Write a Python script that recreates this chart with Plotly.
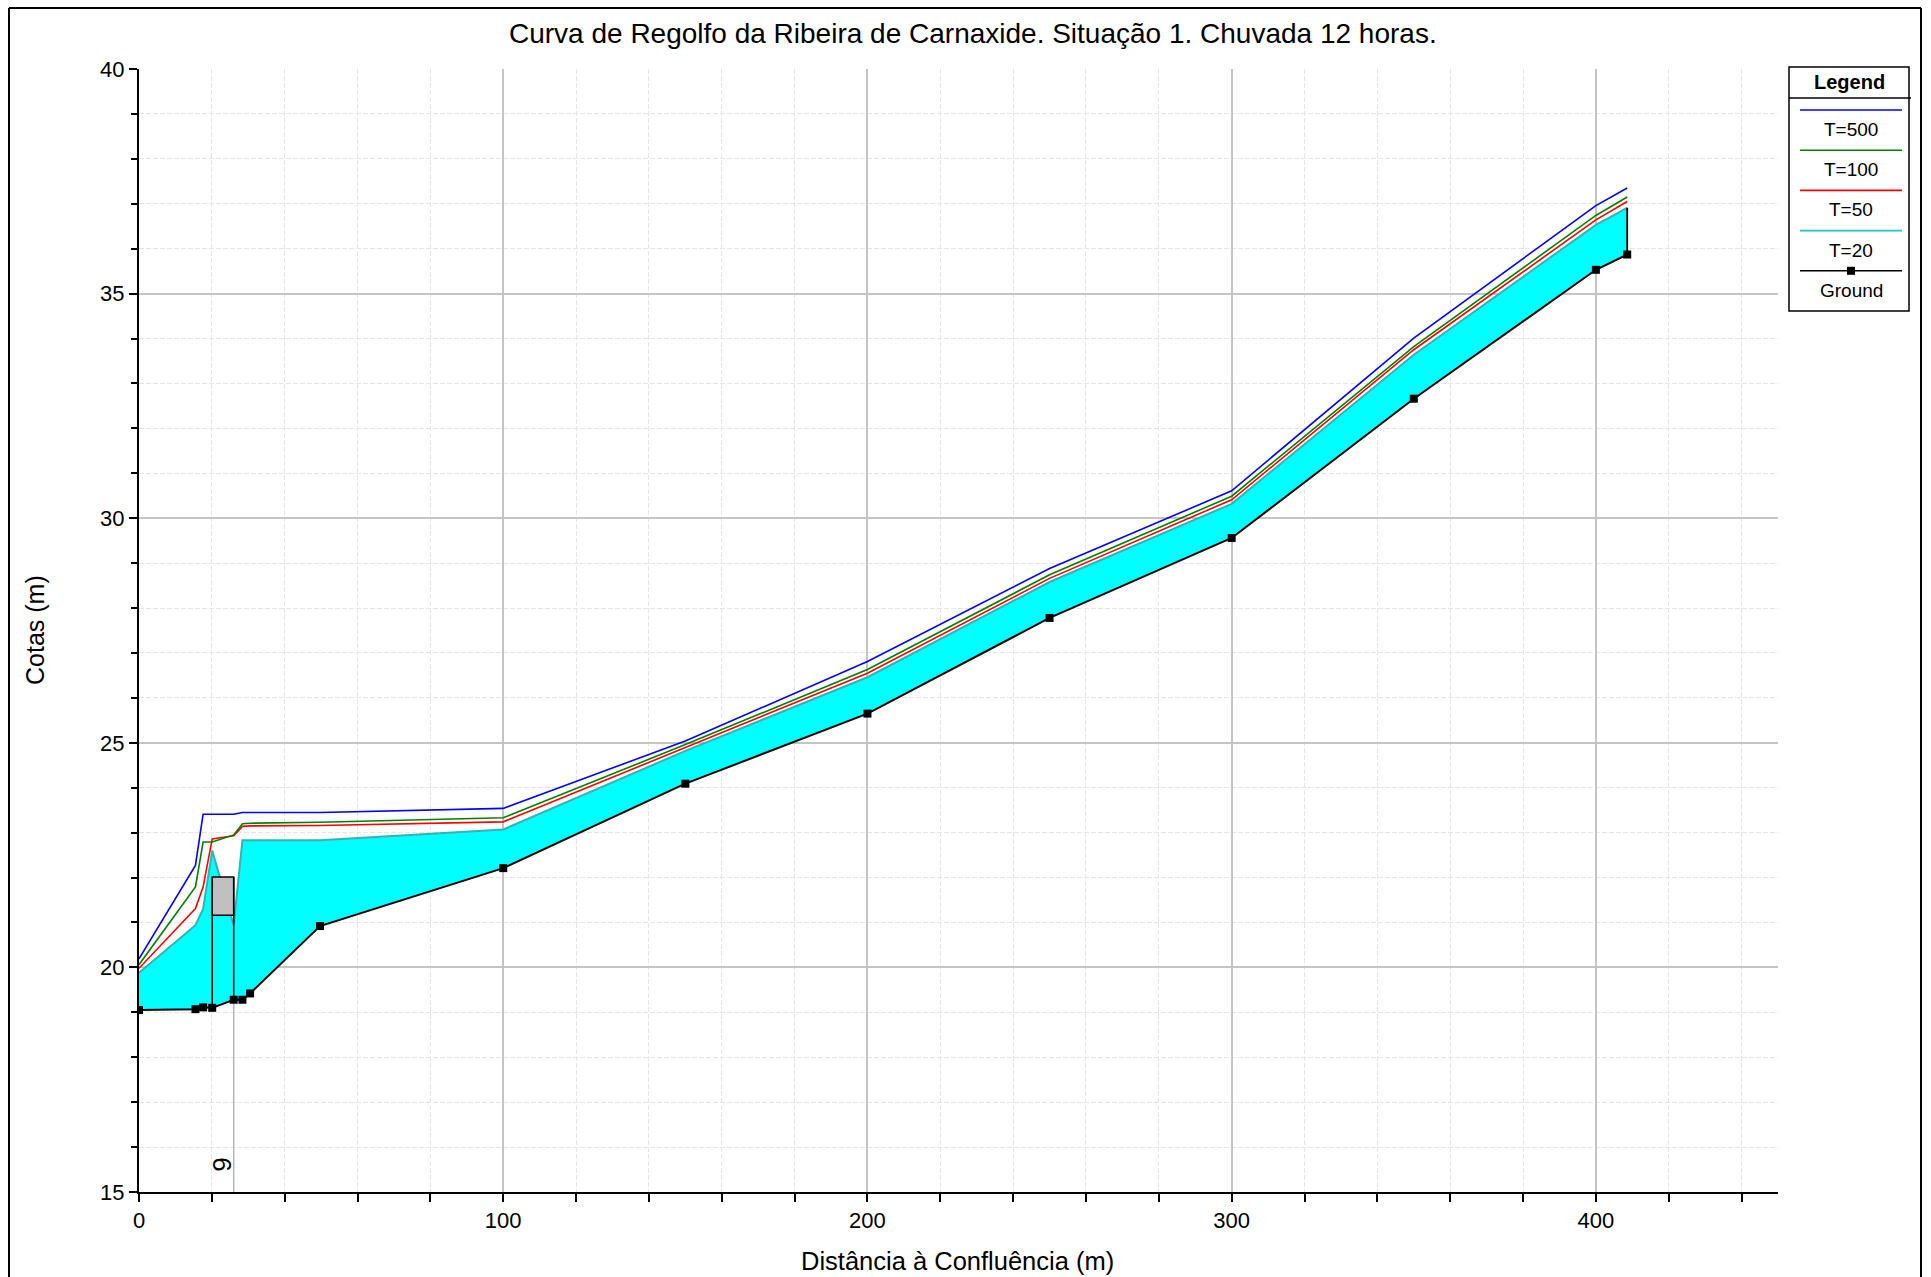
import plotly.graph_objects as go

# ---------------- data ----------------
stations = [0, 15.5, 17.6, 20.1, 26.0, 28.4, 30.5, 49.7, 100, 150, 200, 250, 300, 350, 400, 408.6]
ground = [19.05, 19.07, 19.11, 19.10, 19.28, 19.28, 19.42, 20.92, 22.21, 24.09, 25.65, 27.78, 29.56, 32.66, 35.53, 35.87]
ws_t500 = [20.19, 22.27, 23.41, 23.41, 23.41, 23.45, 23.45, 23.45, 23.54, 25.04, 26.81, 28.88, 30.61, 34.01, 36.96, 37.35]
ws_t100 = [20.06, 21.79, 22.79, 22.79, 22.95, 23.20, 23.21, 23.23, 23.33, 24.96, 26.63, 28.74, 30.49, 33.82, 36.74, 37.15]
ws_t50 = [19.98, 21.31, 21.79, 22.86, 22.93, 23.14, 23.15, 23.16, 23.24, 24.90, 26.55, 28.66, 30.41, 33.75, 36.64, 37.05]
ws_t20 = [19.88, 20.94, 21.30, 22.60, 20.94, 22.83, 22.83, 22.83, 23.07, 24.82, 26.46, 28.58, 30.32, 33.64, 36.53, 36.91]

bridge_x = [20.1, 26.0]
bridge_ground = [19.10, 19.28]
bridge_low_chord = 21.16
bridge_high_chord = 22.01
bridge_label = "9"

series_names = ["T=500", "T=100", "T=50", "T=20", "Ground"]
series_colors = ["#0000FF", "#008000", "#FF0000", "#20C4C4", "#000000"]

title_text = "Curva de Regolfo da Ribeira de Carnaxide. Situação 1. Chuvada 12 horas."
x_title = "Distância à Confluência (m)"
y_title = "Cotas (m)"
legend_title = "Legend"

x_range = [0, 450]
y_range = [15, 40]

# ---------------- layout geometry (screen px of the plot area) ----------------
PL, PT, PR, PB = 139, 69, 1778, 1192
FW, FH = 1931, 1277
L, T = PL, PT
R, B = FW - PR, FH - PB
W, H = PR - PL, PB - PT
FONT = "Arial, Liberation Sans, sans-serif"


def fx(px):
    return (px - PL) / W


def fy(py):
    return (PB - py) / H


fig = go.Figure()

# T=20 filled area between ground and water surface
fig.add_trace(go.Scatter(x=stations, y=ground, mode="lines", line=dict(width=0),
                         showlegend=False, hoverinfo="skip"))
fig.add_trace(go.Scatter(x=stations, y=ws_t20, mode="lines", fill="tonexty",
                         fillcolor="#00FFFF", line=dict(color="#30B4B4", width=2),
                         name="T=20", showlegend=False))

# bridge deck
fig.add_trace(go.Scatter(
    x=[bridge_x[0], bridge_x[1], bridge_x[1], bridge_x[0], bridge_x[0]],
    y=[bridge_low_chord, bridge_low_chord, bridge_high_chord, bridge_high_chord, bridge_low_chord],
    mode="lines", fill="toself", fillcolor="#C0C0C0",
    line=dict(color="black", width=1.5), showlegend=False, hoverinfo="skip"))
# bridge abutment lines
for bx, bg in zip(bridge_x, bridge_ground):
    fig.add_trace(go.Scatter(x=[bx, bx], y=[bg, bridge_high_chord], mode="lines",
                             line=dict(color="black", width=1.5), showlegend=False,
                             hoverinfo="skip"))
# bridge station reference line
fig.add_trace(go.Scatter(x=[bridge_x[1], bridge_x[1]], y=[y_range[0], bridge_ground[1]],
                         mode="lines", line=dict(color="#B4B4B4", width=1.5),
                         showlegend=False, hoverinfo="skip"))

# water surface lines
for name, ys, col in [("T=50", ws_t50, series_colors[2]),
                      ("T=100", ws_t100, series_colors[1]),
                      ("T=500", ws_t500, series_colors[0])]:
    fig.add_trace(go.Scatter(x=stations, y=ys, mode="lines", name=name,
                             line=dict(color=col, width=1.6), showlegend=False))

# end vertical of the fill
fig.add_trace(go.Scatter(x=[stations[-1], stations[-1]], y=[ground[-1], ws_t20[-1]],
                         mode="lines", line=dict(color="black", width=1.8),
                         showlegend=False, hoverinfo="skip"))
# ground
fig.add_trace(go.Scatter(x=stations, y=ground, mode="lines+markers", name="Ground",
                         line=dict(color="black", width=2),
                         marker=dict(symbol="square", size=8, color="black"),
                         showlegend=False))

shapes = []
annotations = []

# outer frame
shapes.append(dict(type="line", xref="paper", yref="paper", x0=fx(9), x1=fx(1921),
                   y0=fy(8), y1=fy(8), line=dict(color="black", width=2)))
shapes.append(dict(type="line", xref="paper", yref="paper", x0=fx(9), x1=fx(9),
                   y0=fy(8), y1=fy(1290), line=dict(color="black", width=2)))
shapes.append(dict(type="line", xref="paper", yref="paper", x0=fx(1921), x1=fx(1921),
                   y0=fy(8), y1=fy(1290), line=dict(color="black", width=2)))

# custom legend
shapes.append(dict(type="rect", xref="paper", yref="paper", x0=fx(1789), x1=fx(1909),
                   y0=fy(311), y1=fy(67), line=dict(color="black", width=1.5),
                   fillcolor="white"))
shapes.append(dict(type="line", xref="paper", yref="paper", x0=fx(1789), x1=fx(1911),
                   y0=fy(98), y1=fy(98), line=dict(color="black", width=1.5)))
annotations.append(dict(text="<b>" + legend_title + "</b>", xref="paper", yref="paper",
                        x=fx(1849), y=fy(82), showarrow=False,
                        font=dict(family=FONT, size=20, color="black"),
                        xanchor="center", yanchor="middle"))
for i, (nm, col) in enumerate(zip(series_names, series_colors)):
    ly = 110 + 40.2 * i
    shapes.append(dict(type="line", xref="paper", yref="paper", x0=fx(1800), x1=fx(1902),
                       y0=fy(ly), y1=fy(ly), line=dict(color=col, width=1.6)))
    annotations.append(dict(text=nm, xref="paper", yref="paper", x=fx(1851), y=fy(ly + 19.5),
                            showarrow=False, font=dict(family=FONT, size=19, color="black"),
                            xanchor="center", yanchor="middle"))
    if nm == "Ground":
        shapes.append(dict(type="rect", xref="paper", yref="paper", x0=fx(1847), x1=fx(1855),
                           y0=fy(ly + 4), y1=fy(ly - 4), line=dict(width=0),
                           fillcolor="black"))

# bridge label
annotations.append(dict(text=bridge_label, x=bridge_x[1] - 3.3, y=15.6, xref="x", yref="y",
                        showarrow=False, textangle=-90, xanchor="center", yanchor="middle",
                        font=dict(family=FONT, size=26, color="black")))

# axis titles
annotations.append(dict(text=y_title, xref="paper", yref="paper", x=fx(35), y=fy(630),
                        showarrow=False, textangle=-90, xanchor="center", yanchor="middle",
                        font=dict(family=FONT, size=25, color="black")))
annotations.append(dict(text=x_title, xref="paper", yref="paper", x=fx(957), y=fy(1261),
                        showarrow=False, xanchor="center", yanchor="middle",
                        font=dict(family=FONT, size=25.5, color="black")))
# title
annotations.append(dict(text=title_text, xref="paper", yref="paper", x=fx(973), y=fy(33),
                        showarrow=False, xanchor="center", yanchor="middle",
                        font=dict(family=FONT, size=28, color="black")))

fig.update_layout(
    width=FW, height=FH,
    margin=dict(l=L, r=R, t=T, b=B),
    paper_bgcolor="white", plot_bgcolor="white",
    showlegend=False,
    shapes=shapes, annotations=annotations,
    font=dict(family=FONT, color="black"),
)
fig.update_xaxes(
    range=x_range, tick0=0, dtick=100, showgrid=True, gridcolor="#C4C4C4", gridwidth=1.5,
    showline=True, linecolor="black", linewidth=2, ticks="outside", ticklen=8,
    tickwidth=1.5, tickcolor="black", zeroline=False,
    tickfont=dict(family=FONT, size=22, color="black"),
    minor=dict(dtick=20, tick0=0, showgrid=True, gridcolor="#E6E6E6", gridwidth=1,
               griddash="5px,2px", ticks="outside", ticklen=8, tickwidth=1.5,
               tickcolor="black"),
)
fig.update_yaxes(
    range=y_range, tick0=15, dtick=5, showgrid=True, gridcolor="#C4C4C4", gridwidth=1.5,
    showline=True, linecolor="black", linewidth=2, ticks="outside", ticklen=8,
    tickwidth=1.5, tickcolor="black", zeroline=False,
    tickfont=dict(family=FONT, size=22, color="black"),
    minor=dict(dtick=1, showgrid=True, gridcolor="#E6E6E6", gridwidth=1,
               griddash="5px,2px", ticks="outside", ticklen=6, tickwidth=1.5,
               tickcolor="black"),
)

fig.write_html(
    "out.html",
    config={"displayModeBar": False},
    post_script="document.body.style.margin='0';document.body.style.overflow='hidden';",
)
